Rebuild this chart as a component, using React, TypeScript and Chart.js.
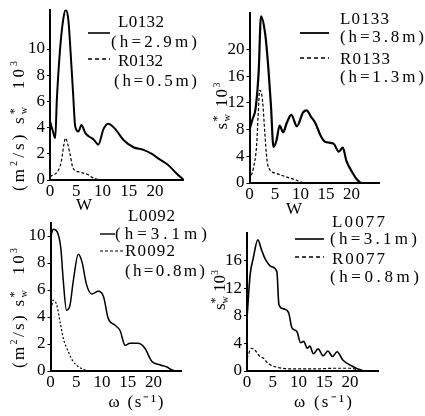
import React, { useEffect, useRef } from "react";
import { Chart, registerables } from "chart.js";

Chart.register(...registerables);

const SERIF = '"Liberation Serif", serif';

// ---------- data ----------
const xTicks = [0, 5, 10, 15, 20];
const xMax = 25.5;

// Panel 1: L0132 / R0132
const p1Names = ["L0132", "R0132"];
const p1Heights = ["(h=2.9m)", "(h=0.5m)"];
const p1YTicks = [0, 2, 4, 6, 8, 10];
const p1LX = [0, 0.5, 1, 1.3, 1.9, 2.5, 3, 3.5, 3.9, 4.4, 4.8, 5.4, 6.0, 6.7, 7.5, 8.3, 9.2, 10.2, 11.1, 12.4, 14.0, 15.9, 17.8, 19.4, 20.6, 22.5, 24.1, 25.5];
const p1LY = [4.5, 3.8, 3.2, 6.1, 9.9, 12.2, 13.0, 12.2, 9.9, 6.6, 4.1, 3.7, 4.2, 3.6, 3.3, 3.1, 2.7, 3.9, 4.3, 3.9, 3.05, 2.5, 2.3, 2.0, 1.65, 1.15, 0.5, 0];
const p1RX = [0, 1.6, 2.2, 2.6, 2.95, 3.4, 3.8, 4.4, 5.7, 7.3, 8.0, 10, 25.5];
const p1RY = [0.25, 0.75, 1.5, 2.6, 3.2, 2.7, 2.0, 0.9, 0.6, 0.4, 0.2, 0, 0];

// Panel 2: L0133 / R0133
const p2Names = ["L0133", "R0133"];
const p2Heights = ["(h=3.8m)", "(h=1.3m)"];
const p2YTicks = [0, 4, 8, 12, 16, 20];
const p2LX = [0, 0.6, 1.2, 1.8, 2.25, 3.1, 3.7, 4.2, 4.7, 5.3, 5.9, 6.6, 7.3, 8.2, 9.3, 10.5, 11.2, 12.0, 12.9, 14.0, 14.8, 16.5, 17.5, 18.3, 19.0, 20.0, 21.0, 22.0, 25.5];
const p2LY = [8.0, 9.6, 11.2, 16.7, 25.0, 22.2, 17.2, 11.7, 5.4, 6.4, 8.6, 7.6, 9.0, 10.2, 8.5, 10.6, 10.9, 10.0, 9.0, 7.0, 6.2, 5.9, 4.7, 5.3, 3.3, 1.8, 0.6, 0, 0];
const p2RX = [0, 0.75, 1.4, 1.7, 2.0, 2.3, 2.6, 3.0, 3.4, 3.8, 5.2, 7.1, 9.1, 11, 25.5];
const p2RY = [0.45, 2.2, 5.7, 10.2, 13.9, 13.6, 12.0, 7.5, 3.6, 2.2, 1.45, 0.95, 0.45, 0, 0];

// Panel 3: L0092 / R0092
const p3Names = ["L0092", "R0092"];
const p3Heights = ["(h=3.1m)", "(h=0.8m)"];
const p3YTicks = [0, 2, 4, 6, 8, 10];
const p3LX = [0, 0.5, 1.3, 2.0, 2.5, 3.1, 3.8, 4.4, 5.4, 6.1, 7.0, 8.0, 9.3, 10.3, 11.2, 12.5, 13.5, 14.5, 15.4, 17.0, 18.3, 19.7, 21.3, 22.6, 23.5, 24.5, 25.5];
const p3LY = [9.8, 10.5, 10.3, 9.1, 6.6, 4.5, 4.9, 6.6, 8.65, 8.1, 6.4, 5.7, 5.9, 5.5, 3.9, 3.4, 3.0, 1.9, 2.05, 2.05, 1.7, 0.7, 0.45, 0.3, 0.1, 0, 0];
const p3RX = [0, 0.55, 1.2, 1.85, 2.5, 3.5, 4.4, 5.7, 7.0, 8.0];
const p3RY = [4.3, 5.25, 4.9, 3.65, 2.4, 1.4, 0.7, 0.25, 0.05, 0];

// Panel 4: L0077 / R0077
const p4Names = ["L0077", "R0077"];
const p4Heights = ["(h=3.1m)", "(h=0.8m)"];
const p4YTicks = [0, 4, 8, 12, 16];
const p4LX = [0, 0.6, 1.2, 2.1, 2.85, 3.5, 4.8, 5.8, 6.2, 7.1, 8.1, 8.7, 9.7, 10.4, 11.0, 11.7, 12.2, 12.9, 13.8, 14.8, 15.7, 16.6, 17.5, 18.6, 20.2, 21.5, 23.0, 25.5];
const p4LY = [7.6, 13.9, 16.3, 19.0, 17.5, 16.3, 15.1, 14.4, 9.6, 9.0, 8.4, 6.3, 5.7, 4.1, 4.3, 3.3, 3.6, 2.5, 3.2, 2.2, 2.9, 2.1, 2.8, 1.6, 0.8, 0.3, 0, 0];
const p4RX = [0, 0.9, 1.55, 2.5, 3.2, 4.1, 6.1, 9.3, 13, 17, 20, 22, 23.5];
const p4RY = [1.85, 3.3, 3.0, 2.1, 1.85, 1.1, 0.5, 0.3, 0.3, 0.4, 0.4, 0.1, 0];

const xTitleW = "W";
const xTitleOmega = "ω (s⁻¹)";

// ---------- drawing helpers ----------
type TextItem = { t: string; x: number; y: number; w: number; size: number; center?: boolean };
type Sample = { x1: number; x2: number; y: number; dash: number[]; lw: number };
type Seg = { t: string; s: number; dy: number; noAdv?: boolean; italic?: boolean };
type Title = { segs: Seg[]; cx: number; cy: number; w: number };

function setLS(ctx: any, v: number) {
  ctx.letterSpacing = v + "px";
}

function drawText(ctx: CanvasRenderingContext2D, it: TextItem) {
  ctx.font = `${it.size}px ${SERIF}`;
  setLS(ctx, 0);
  const nat = ctx.measureText(it.t).width;
  const n = Array.from(it.t).length;
  const sp = n > 1 ? (it.w - nat) / (n - 1) : 0;
  setLS(ctx, sp);
  ctx.textAlign = "left";
  ctx.textBaseline = "middle";
  const x0 = it.center ? it.x - it.w / 2 : it.x;
  ctx.fillText(it.t, x0, it.y);
  setLS(ctx, 0);
}

function segFont(sg: Seg) {
  return `${sg.italic ? "italic " : ""}${sg.s}px ${SERIF}`;
}

function drawTitle(ctx: CanvasRenderingContext2D, tt: Title) {
  setLS(ctx, 0);
  const widths = tt.segs.map((sg) => {
    ctx.font = segFont(sg);
    return ctx.measureText(sg.t).width;
  });
  let nat = 0;
  let n = 0;
  tt.segs.forEach((sg, i) => {
    if (!sg.noAdv) {
      nat += widths[i];
      n += Array.from(sg.t).length;
    }
  });
  const sp = n > 1 ? (tt.w - nat) / (n - 1) : 0;
  ctx.save();
  ctx.translate(tt.cx, tt.cy);
  ctx.rotate(-Math.PI / 2);
  ctx.textAlign = "left";
  ctx.textBaseline = "alphabetic";
  let x = -tt.w / 2;
  tt.segs.forEach((sg, i) => {
    ctx.font = segFont(sg);
    setLS(ctx, sp);
    ctx.fillText(sg.t, x, 5 + sg.dy);
    if (!sg.noAdv) x += widths[i] + sp * Array.from(sg.t).length;
  });
  setLS(ctx, 0);
  ctx.restore();
}

const longTitle = (): Seg[] => [
  { t: "(m", s: 17, dy: 0 },
  { t: "2", s: 10, dy: -7 },
  { t: "/s) ", s: 17, dy: 0 },
  { t: "s", s: 17, dy: 0 },
  { t: "*", s: 12, dy: -6, noAdv: true },
  { t: "w", s: 10, dy: 3 },
  { t: "  10", s: 17, dy: 0 },
  { t: "3", s: 10, dy: -7 },
];
const shortTitle = (): Seg[] => [
  { t: "s", s: 17, dy: 0 },
  { t: "*", s: 12, dy: -6, noAdv: true },
  { t: "w", s: 10, dy: 3 },
  { t: " 10", s: 17, dy: 0 },
  { t: "3", s: 10, dy: -7 },
];

type PanelCfg = {
  L: number; xPx: number; zeroY: number; yPx: number; yMax: number;
  yTicks: number[];
  lx: number[]; ly: number[]; rx: number[]; ry: number[];
  names: string[]; heights: string[];
  solidW: number; dash: number[];
  texts: TextItem[]; samples: Sample[]; title: Title; xTitle: TextItem;
};

const panels: PanelCfg[] = [
  {
    L: 50, xPx: 5.25, zeroY: 180, yPx: 13.1, yMax: 13, yTicks: p1YTicks,
    lx: p1LX, ly: p1LY, rx: p1RX, ry: p1RY, names: p1Names, heights: p1Heights,
    solidW: 2, dash: [3, 2],
    texts: [
      { t: p1Names[0], x: 118, y: 23, w: 46, size: 17 },
      { t: p1Heights[0], x: 111, y: 43, w: 86, size: 17 },
      { t: p1Names[1], x: 118, y: 62, w: 45, size: 17 },
      { t: p1Heights[1], x: 114, y: 82, w: 83, size: 17 },
    ],
    samples: [
      { x1: 88, x2: 110, y: 33, dash: [], lw: 1.6 },
      { x1: 88, x2: 110, y: 59, dash: [4, 3], lw: 1.3 },
    ],
    title: { segs: longTitle(), cx: 19, cy: 126, w: 130 },
    xTitle: { t: xTitleW, x: 83, y: 206, w: 14, size: 17, center: true },
  },
  {
    L: 249.5, xPx: 5.1, zeroY: 183, yPx: 6.67, yMax: 25.5, yTicks: p2YTicks,
    lx: p2LX, ly: p2LY, rx: p2RX, ry: p2RY, names: p2Names, heights: p2Heights,
    solidW: 2.2, dash: [3, 2],
    texts: [
      { t: p2Names[0], x: 340, y: 20, w: 49, size: 17 },
      { t: p2Heights[0], x: 340, y: 38, w: 84, size: 17 },
      { t: p2Names[1], x: 340, y: 60, w: 50, size: 17 },
      { t: p2Heights[1], x: 340, y: 78, w: 84, size: 17 },
    ],
    samples: [
      { x1: 300, x2: 329, y: 33, dash: [], lw: 1.8 },
      { x1: 300, x2: 329, y: 58, dash: [4, 3], lw: 1.3 },
    ],
    title: { segs: shortTitle(), cx: 222, cy: 106, w: 47 },
    xTitle: { t: xTitleW, x: 293, y: 210, w: 14, size: 17, center: true },
  },
  {
    L: 50.5, xPx: 5.15, zeroY: 371, yPx: 13.5, yMax: 11, yTicks: p3YTicks,
    lx: p3LX, ly: p3LY, rx: p3RX, ry: p3RY, names: p3Names, heights: p3Heights,
    solidW: 1.5, dash: [2, 2],
    texts: [
      { t: p3Names[0], x: 128, y: 217, w: 47, size: 17 },
      { t: p3Heights[0], x: 115, y: 235, w: 92, size: 17 },
      { t: p3Names[1], x: 125, y: 252, w: 50, size: 17 },
      { t: p3Heights[1], x: 125, y: 272, w: 80, size: 17 },
    ],
    samples: [
      { x1: 100, x2: 115, y: 234, dash: [], lw: 1.4 },
      { x1: 100, x2: 125, y: 251, dash: [3, 2], lw: 1.2 },
    ],
    title: { segs: longTitle(), cx: 19, cy: 308, w: 120 },
    xTitle: { t: xTitleOmega, x: 136, y: 403, w: 55, size: 17, center: true },
  },
  {
    L: 247, xPx: 5.15, zeroY: 371, yPx: 6.9, yMax: 20, yTicks: p4YTicks,
    lx: p4LX, ly: p4LY, rx: p4RX, ry: p4RY, names: p4Names, heights: p4Heights,
    solidW: 1.6, dash: [3, 2],
    texts: [
      { t: p4Names[0], x: 332, y: 223, w: 53, size: 17 },
      { t: p4Heights[0], x: 330, y: 240, w: 87, size: 17 },
      { t: p4Names[1], x: 332, y: 260, w: 53, size: 17 },
      { t: p4Heights[1], x: 330, y: 278, w: 89, size: 17 },
    ],
    samples: [
      { x1: 295, x2: 324, y: 239, dash: [], lw: 1.6 },
      { x1: 295, x2: 324, y: 257, dash: [4, 3], lw: 1.3 },
    ],
    title: { segs: shortTitle(), cx: 220, cy: 290, w: 40 },
    xTitle: { t: xTitleOmega, x: 323, y: 403, w: 58, size: 17, center: true },
  },
];

const CW = 425;
const CH = 416;
const Y_AXIS_W = 40;
const X_AXIS_H = 25;

function buildConfig(p: PanelCfg): any {
  const R = p.L + xMax * p.xPx;
  const T = p.zeroY - p.yMax * p.yPx;
  const B = p.zeroY;
  const tickFont = { family: SERIF, size: 17 };
  const textPlugin = {
    id: "panelText",
    afterDraw(chart: any) {
      const ctx: CanvasRenderingContext2D = chart.ctx;
      ctx.save();
      ctx.fillStyle = "#000";
      ctx.strokeStyle = "#000";
      p.samples.forEach((s) => {
        ctx.beginPath();
        ctx.lineWidth = s.lw;
        ctx.setLineDash(s.dash);
        ctx.moveTo(s.x1, s.y);
        ctx.lineTo(s.x2, s.y);
        ctx.stroke();
      });
      ctx.setLineDash([]);
      p.texts.forEach((t) => drawText(ctx, t));
      drawText(ctx, p.xTitle);
      drawTitle(ctx, p.title);
      ctx.restore();
    },
  };
  return {
    type: "line",
    data: {
      datasets: [
        {
          label: p.names[0],
          data: p.lx.map((x, i) => ({ x, y: p.ly[i] })),
          borderColor: "#000",
          borderWidth: p.solidW,
          pointRadius: 0,
          fill: false,
          cubicInterpolationMode: "monotone",
        },
        {
          label: p.names[1],
          data: p.rx.map((x, i) => ({ x, y: p.ry[i] })),
          borderColor: "#000",
          borderWidth: 1.2,
          borderDash: p.dash,
          pointRadius: 0,
          fill: false,
          cubicInterpolationMode: "monotone",
        },
      ],
    },
    options: {
      responsive: false,
      animation: false,
      events: [],
      layout: {
        autoPadding: false,
        padding: {
          left: p.L - Y_AXIS_W,
          right: CW - R,
          top: T,
          bottom: CH - B - X_AXIS_H,
        },
      },
      plugins: { legend: { display: false }, tooltip: { enabled: false } },
      scales: {
        x: {
          type: "linear",
          min: 0,
          max: xMax,
          afterBuildTicks: (s: any) => {
            s.ticks = xTicks.map((v) => ({ value: v }));
          },
          afterFit: (s: any) => {
            s.height = X_AXIS_H;
            s.paddingLeft = 0;
            s.paddingRight = 0;
          },
          grid: { display: false, drawTicks: false },
          border: { display: true, color: "#000", width: 2 },
          ticks: { color: "#000", font: tickFont, padding: 1, maxRotation: 0, autoSkip: false },
        },
        y: {
          type: "linear",
          min: 0,
          max: p.yMax,
          afterBuildTicks: (s: any) => {
            s.ticks = p.yTicks.map((v) => ({ value: v }));
          },
          afterFit: (s: any) => {
            s.width = Y_AXIS_W;
            s.paddingTop = 0;
            s.paddingBottom = 0;
          },
          grid: { display: true, drawOnChartArea: false, drawTicks: true, tickLength: 3, color: "#000" },
          border: { display: true, color: "#000", width: 2 },
          ticks: { color: "#000", font: tickFont, padding: 2, autoSkip: false },
        },
      },
    },
    plugins: [textPlugin],
  };
}

function PanelChart({ cfg }: { cfg: PanelCfg }) {
  const ref = useRef<HTMLCanvasElement>(null);
  useEffect(() => {
    const chart = new Chart(ref.current as HTMLCanvasElement, buildConfig(cfg));
    return () => chart.destroy();
  }, [cfg]);
  return (
    <canvas
      ref={ref}
      width={CW}
      height={CH}
      style={{ position: "absolute", left: 0, top: 0, width: CW, height: CH }}
    />
  );
}

export default function App() {
  return (
    <div
      style={{
        position: "fixed",
        left: 0,
        top: 0,
        width: CW,
        height: CH,
        background: "#fff",
        overflow: "hidden",
      }}
    >
      {panels.map((p, i) => (
        <PanelChart key={i} cfg={p} />
      ))}
    </div>
  );
}
